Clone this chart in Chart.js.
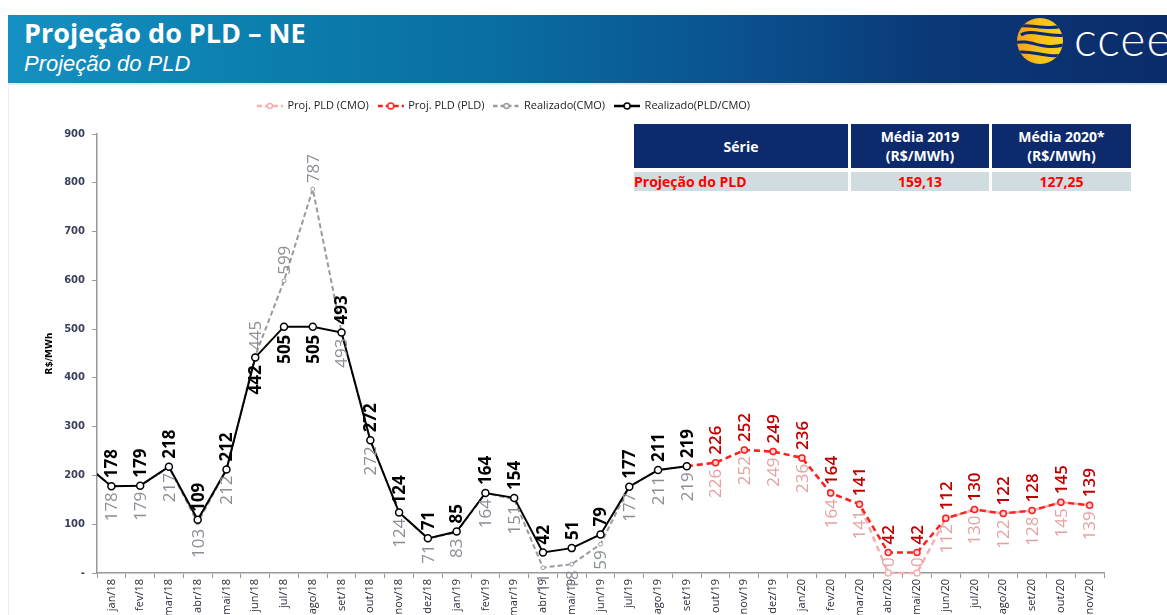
<!DOCTYPE html>
<html><head><meta charset="utf-8">
<script src="https://cdn.jsdelivr.net/npm/chart.js@4.4.1/dist/chart.umd.min.js"></script>
<style>
body{margin:0;width:1167px;height:615px;overflow:hidden;background:#fff;position:relative;font-family:'Open Sans',sans-serif}
#hdr{position:absolute;left:8px;top:15px;width:1159px;height:68px;background:linear-gradient(90deg,#1590c2 0%,#0b7fae 22%,#0a6ea0 42%,#0a5390 62%,#0b3877 80%,#0b2c6a 100%);z-index:2}
#t1{position:absolute;left:16px;top:-1px;color:#fff;font:bold 27px 'Open Sans',sans-serif;white-space:nowrap}
#t2{position:absolute;left:16px;top:36px;color:#fff;font:italic 22px 'Liberation Sans',sans-serif;white-space:nowrap}
#logo{position:absolute;left:1007px;top:1px}
#ccee{position:absolute;left:1066px;top:-6px;color:#fff;font:300 48px 'Lato',sans-serif;white-space:nowrap;letter-spacing:1px}
#lline{position:absolute;left:8px;top:83px;width:1px;height:532px;background:#ececec}
#hline{position:absolute;left:8px;top:83px;width:1159px;height:2px;background:#e4eaee;z-index:1}
#wrap{position:absolute;left:0;top:88px;width:1167px;height:527px;z-index:3}
.cell{position:absolute;display:flex;align-items:center;justify-content:center;text-align:center;z-index:4;font-family:'Open Sans',sans-serif;font-weight:bold;font-size:14px}
.h{background:#0c2a6c;color:#fff;top:124px;height:44px;line-height:19px}
.r{background:#d0dcdf;color:#ff0000;top:172px;height:19px}
</style></head>
<body>
<div id="hdr">
  <div id="t1">Projeção do PLD – NE</div>
  <div id="t2">Projeção do PLD</div>
  <svg id="logo" width="50" height="50" viewBox="0 0 50 50">
    <defs>
      <linearGradient id="lg" x1="0" x2="1" y1="0" y2="0"><stop offset="0" stop-color="#f39c1f"/><stop offset="0.45" stop-color="#f8bf18"/><stop offset="1" stop-color="#f9d21e"/></linearGradient>
      <clipPath id="cp"><circle cx="25" cy="25" r="23"/></clipPath>
    </defs>
    <g clip-path="url(#cp)">
      <rect width="50" height="50" fill="url(#lg)"/>
      <path d="M-2 11 C14 6,30 16,52 9" stroke="#0b2c6a" stroke-width="3" fill="none"/>
      <path d="M6 19 C16 12,32 22,52 19" stroke="#0b2c6a" stroke-width="3" fill="none"/>
      <path d="M-2 27 C18 22,26 36,52 28" stroke="#0b2c6a" stroke-width="3" fill="none"/>
      <path d="M-2 37 C16 32,32 44,52 38" stroke="#0b2c6a" stroke-width="3" fill="none"/>
    </g>
  </svg>
  <div id="ccee">ccee</div>
</div>
<div id="hline"></div>
<div id="lline"></div>
<div class="cell h" style="left:634px;width:214px">Série</div>
<div class="cell h" style="left:851px;width:138px">Média 2019<br>(R$/MWh)</div>
<div class="cell h" style="left:992px;width:139px">Média 2020*<br>(R$/MWh)</div>
<div class="cell r" style="left:634px;width:214px;justify-content:flex-start">Projeção do PLD</div>
<div class="cell r" style="left:851px;width:138px">159,13</div>
<div class="cell r" style="left:992px;width:139px">127,25</div>
<div id="wrap"><canvas id="c"></canvas></div>
<script>
// ---- data ----
const months = ['dez/17',
  'jan/18','fev/18','mar/18','abr/18','mai/18','jun/18','jul/18','ago/18','set/18','out/18','nov/18','dez/18',
  'jan/19','fev/19','mar/19','abr/19','mai/19','jun/19','jul/19','ago/19','set/19','out/19','nov/19','dez/19',
  'jan/20','fev/20','mar/20','abr/20','mai/20','jun/20','jul/20','ago/20','set/20','out/20','nov/20'];
const firstShown = 'jan/18';
// realizado series: dez/17 .. set/19
const realizadoPLDCMO = [227,178,179,218,109,212,442,505,505,493,272,124,71,85,164,154,42,51,79,177,211,219];
const realizadoCMO    = [227,178,179,217,103,212,445,599,787,493,272,124,71,83,164,151,11,18,59,177,211,219];
// projection series: set/19 .. nov/20
const projStart = 'set/19';
const projPLD = [219,226,252,249,236,164,141,42,42,112,130,122,128,145,139];
const projCMO = [219,226,252,249,236,164,141,0,0,112,130,122,128,145,139];
const yTicks = [0,100,200,300,400,500,600,700,800,900];

// ---- helpers ----
const pStart = months.indexOf(projStart);
function pad(arr, start){ const out = months.map(()=>null); arr.forEach((v,i)=>{ out[start+i]=v; }); return out; }
const flipped = ['jun/18','jul/18','ago/18'];
const zeroFlip = ['abr/20','mai/20'];

function legendMark(color, dash, r, fill){
  const c=document.createElement('canvas'); c.width=26; c.height=10;
  const g=c.getContext('2d');
  g.strokeStyle=color; g.lineWidth=2.5; g.setLineDash(dash);
  g.beginPath(); g.moveTo(0,5); g.lineTo(26,5); g.stroke();
  g.setLineDash([]); g.beginPath(); g.arc(13,5,r,0,Math.PI*2); g.fillStyle=fill; g.fill(); g.lineWidth=1.5; g.stroke();
  return c;
}

const valueLabels = {
  id:'valueLabels',
  afterDatasetsDraw(chart){
    const ctx=chart.ctx, area=chart.chartArea;
    chart.data.datasets.forEach((ds,i)=>{
      const cfg=ds.valueLabels; if(!cfg) return;
      const meta=chart.getDatasetMeta(i);
      meta.data.forEach((pt,j)=>{
        const v=ds.data[j]; if(v==null) return;
        if(!(pt.x>=area.left-1 && pt.x<=area.right+1)) return;
        const lab=chart.data.labels[j];
        if(cfg.skip && cfg.skip.includes(lab)) return;
        let pos=cfg.pos;
        if(cfg.flip && cfg.flip.includes(lab)) pos = pos==='above'?'below':'above';
        ctx.save();
        ctx.translate(pt.x+1, pos==='above' ? pt.y-cfg.gap : pt.y+cfg.gap);
        ctx.rotate(-Math.PI/2);
        ctx.font=cfg.font; ctx.fillStyle=cfg.color; ctx.textBaseline='middle';
        ctx.textAlign = pos==='above' ? 'left' : 'right';
        ctx.fillText(String(v),0,0);
        ctx.restore();
      });
    });
  }
};
const legendShift = { id:'legendShift', afterLayout(chart){ const lg=chart.legend; if(lg){ lg.left-=48; lg.right-=48; } } };

const marks = [
  legendMark('#000',[],3,'#fff'),
  legendMark('#9a9a9a',[4,3],2.5,'#fff'),
  legendMark('#ff2020',[5,3],3,'#fff'),
  legendMark('#f7b0b0',[5,3],2.5,'#fff')
];
const clipArea = {left:0, right:8, top:8, bottom:8};

new Chart(document.getElementById('c'), {
  type:'line',
  data:{
    labels: months,
    datasets:[
      { label:'Realizado(PLD/CMO)', data: pad(realizadoPLDCMO,0), borderColor:'#000', borderWidth:2, clip:clipArea,
        pointRadius:3.5, pointBackgroundColor:'#fff', pointBorderColor:'#000', pointBorderWidth:1.5,
        valueLabels:{pos:'above', gap:8, flip:flipped, font:'bold 17px "Open Sans"', color:'#000'} },
      { label:'Realizado(CMO)', data: pad(realizadoCMO,0), borderColor:'#9a9a9a', borderWidth:2, borderDash:[5,3], clip:clipArea,
        pointRadius:2, pointBackgroundColor:'#fff', pointBorderColor:'#9a9a9a', pointBorderWidth:1,
        valueLabels:{pos:'below', gap:6, flip:flipped, font:'17px "Open Sans"', color:'#8a8e96'} },
      { label:'Proj. PLD (PLD)', data: pad(projPLD,pStart), borderColor:'#ff2020', borderWidth:2.5, borderDash:[6,4], clip:clipArea,
        pointRadius:3, pointBackgroundColor:'#ffd6d6', pointBorderColor:'#ff2020', pointBorderWidth:1.5,
        valueLabels:{pos:'above', gap:8, skip:[projStart], font:'600 17px "Open Sans"', color:'#c00000'} },
      { label:'Proj. PLD (CMO)', data: pad(projCMO,pStart), borderColor:'#f7b0b0', borderWidth:2.5, borderDash:[6,4], clip:clipArea,
        pointRadius:3, pointBackgroundColor:'#fff', pointBorderColor:'#f7b0b0', pointBorderWidth:1.5,
        valueLabels:{pos:'below', gap:6, skip:[projStart], flip:zeroFlip, font:'17px "Open Sans"', color:'#e3a3a3'} }
    ]
  },
  options:{
    responsive:true, maintainAspectRatio:false, animation:false,
    layout:{padding:{top:2.5,right:63,left:0,bottom:0}},
    plugins:{
      tooltip:{enabled:false},
      legend:{ position:'top', align:'center',
        labels:{ usePointStyle:true, pointStyleWidth:24, padding:10, color:'#222',
          font:{family:'Open Sans', size:11},
          sort:(a,b)=>b.datasetIndex-a.datasetIndex,
          generateLabels(chart){
            const items=Chart.defaults.plugins.legend.labels.generateLabels(chart);
            items.forEach(it=>{ it.pointStyle=marks[it.datasetIndex]; });
            return items;
          } } },
      subtitle:{ display:true, text:'', weight:0, position:'top', font:{size:10, lineHeight:1}, padding:{top:0,bottom:2.5} }
    },
    scales:{
      x:{ type:'category', offset:true,
        afterDataLimits(s){ s.min = months.indexOf(firstShown); },
        grid:{display:true, drawOnChartArea:false, offset:true, tickLength:5, color:'#9a9a9a', lineWidth:1},
        border:{display:true, color:'#9a9a9a', width:1.5},
        ticks:{autoSkip:false, maxRotation:90, minRotation:90, padding:1, color:'#2b2b3a', font:{family:'Open Sans', size:11}},
        afterFit(s){ s.height=42; } },
      y:{ min:0, max:900,
        afterBuildTicks(s){ s.ticks = yTicks.map(v=>({value:v})); },
        grid:{display:true, drawOnChartArea:false, tickLength:5, color:'#9a9a9a'},
        border:{display:true, color:'#9a9a9a', width:1.5},
        ticks:{padding:7, color:'#3a3f5c', font:{family:'DejaVu Sans', size:10, weight:'bold'},
          callback:(v)=> v===0 ? '-' : String(v)},
        title:{display:true, text:'R$/MWh', color:'#000', font:{family:'DejaVu Sans', size:9, weight:'bold'}, padding:{top:44,bottom:0}},
        afterFit(s){ s.width=97; } }
    }
  },
  plugins:[valueLabels, legendShift]
});
</script>
</body></html>
